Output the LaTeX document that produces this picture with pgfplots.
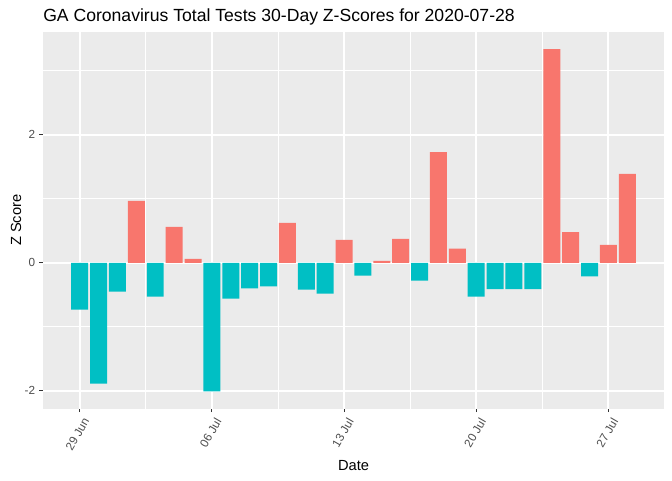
\documentclass[border=0pt]{standalone}
\usepackage{fontspec}
\setmainfont{Liberation Sans}
\usepackage{pgfplots}
\pgfplotsset{compat=1.18}
\definecolor{ggred}{HTML}{F8766D}
\definecolor{ggcyan}{HTML}{00BFC4}
\definecolor{panelbg}{HTML}{EBEBEB}
\definecolor{grey20}{HTML}{333333}
\definecolor{grey30}{HTML}{4D4D4D}

\begin{document}
\begin{tikzpicture}
\useasboundingbox (0,0) rectangle (504pt,360pt);
\begin{axis}[
	at={(32.25pt,53.6pt)}, anchor=south west,
	scale only axis,
	width=465.75pt, height=282.4pt,
	xmin=-1.945, xmax=30.945,
	ymin=-2.2775, ymax=3.6075,
	axis background/.style={fill=panelbg},
	axis line style={draw=none},
	grid=both,
	major grid style={white, line width=1.4pt},
	minor grid style={white, line width=0.7pt},
	minor tick length=0pt,
	major tick length=2.75pt,
	tick align=outside,
	tick pos=left,
	tick style={grey20, line width=0.7pt},
	xtick={0,7,14,21,28},
	xticklabels={29 Jun,06 Jul,13 Jul,20 Jul,27 Jul},
	minor xtick={3.5,10.5,17.5,24.5},
	ytick={-2,0,2},
	yticklabels={-2,0,2},
	minor ytick={-1,1,3},
	ticklabel style={font=\fontsize{8.8}{10}\selectfont, text=grey30},
	xticklabel style={xshift=5pt, yshift=-5pt, rotate=60, anchor=east, inner sep=0pt},
	yticklabel style={xshift=-3pt, anchor=east, inner sep=0pt},
	title={GA Coronavirus Total Tests 30-Day Z-Scores for 2020-07-28},
	title style={at={(axis description cs:0,1.0062)}, anchor=base west, inner sep=0pt, font=\fontsize{13.2}{15}\selectfont},
	xlabel={Date},
	xlabel style={at={(axis description cs:0.5,-0.1633)}, anchor=base, inner sep=0pt, font=\fontsize{11}{13}\selectfont},
	ylabel={Z Score},
	ylabel style={at={(axis description cs:-0.0354,0.5)}, anchor=base, inner sep=0pt, font=\fontsize{11}{13}\selectfont},
]
% negative z-scores
\addplot[ybar, bar width=0.9, bar shift=0pt, fill=ggcyan, draw=none] coordinates {
	(0,-0.73) (1,-1.89) (2,-0.45) (4,-0.53) (7,-2.01) (8,-0.56) (9,-0.40)
	(10,-0.37) (12,-0.42) (13,-0.48) (15,-0.20) (18,-0.28) (21,-0.53)
	(22,-0.41) (23,-0.41) (24,-0.41) (27,-0.21)
};
% positive z-scores
\addplot[ybar, bar width=0.9, bar shift=0pt, fill=ggred, draw=none] coordinates {
	(3,0.97) (5,0.56) (6,0.06) (11,0.625) (14,0.36) (16,0.03) (17,0.375)
	(19,1.73) (20,0.22) (25,3.34) (26,0.48) (28,0.28) (29,1.39)
};
\end{axis}
\end{tikzpicture}
\end{document}
